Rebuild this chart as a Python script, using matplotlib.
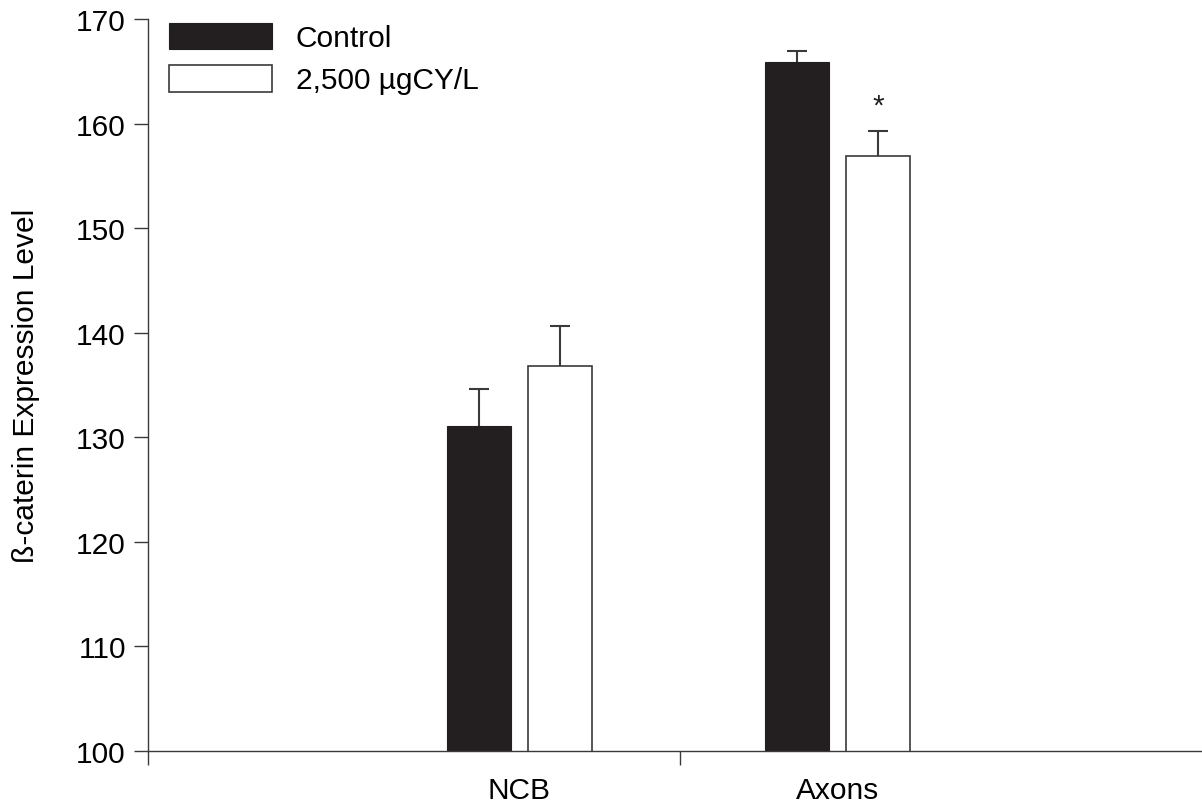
import matplotlib
matplotlib.use("Agg")
from matplotlib import pyplot as plt

plt.rcParams['font.family'] = ['Liberation Sans', 'DejaVu Sans']

#########################################
groups = ["NCB", "Axons"]
series = ["Control", "2,500 µgCY/L"]
control = [131.1, 165.9]
control_err = [3.5, 1.0]
treated = [136.8, 156.9]
treated_err = [3.8, 2.4]
star_y = 161.7

#########################################
dark = "#231f20"
edge = "#3a3a3a"
fs = 21.5

fig = plt.figure(figsize=(12.02, 8.03), dpi=100)
ax = fig.add_axes([148/1202, 1-752/803, 1-148/1202, (752-20)/803])

pos = [1, 2]
w = 0.2
off = 0.127

xc = [p - off for p in pos]
xt = [p + off for p in pos]
ax.bar(xc, control, w, color=dark, edgecolor=dark, linewidth=0.8,
       label=series[0], zorder=2)
ax.bar(xt, treated, w, color="white", edgecolor=edge, linewidth=1.2,
       label=series[1], zorder=2)

# upper error bars only
for xs, ys, es in [(xc, control, control_err), (xt, treated, treated_err)]:
    tops = [y + e for y, e in zip(ys, es)]
    ax.vlines(xs, ys, tops, color=edge, linewidth=1.5, zorder=1)
    ax.plot(xs, tops, linestyle="none", marker="_", markersize=14,
            markeredgewidth=1.5, color=edge, zorder=1)

ax.text(pos[1] + off, star_y, "*", ha="center", va="center", fontsize=fs, color=dark)

#########################################
xl = (-0.168, 3.146)
ax.set_xlim(*xl)
ax.set_ylim(100, 170)
ax.set_yticks(range(100, 171, 10))

ax.set_xticks([xl[0] + 0.001, 1.505])
ax.set_xticklabels(["", ""])
ax.set_xticks(pos, minor=True)
ax.set_xticklabels(groups, minor=True)
ax.tick_params(axis="x", which="major", length=10, width=1, color=edge, direction="out")
ax.tick_params(axis="x", which="minor", length=0, pad=18, labelsize=fs)
ax.tick_params(axis="y", length=10, width=1, color=edge, labelsize=fs, pad=6)

for s in ["top", "right"]:
    ax.spines[s].set_visible(False)
for s in ["left", "bottom"]:
    ax.spines[s].set_color(edge)
    ax.spines[s].set_linewidth(1)
ax.spines["left"].set_bounds(100, 170)

ax.set_ylabel("ß-caterin Expression Level", fontsize=fs, labelpad=26)

ax.legend(loc="upper left", bbox_to_anchor=(0.02, 0.995), frameon=False,
          fontsize=fs, handlelength=3.45, handleheight=1.0, handletextpad=0.8,
          labelspacing=0.42, borderaxespad=0, borderpad=0)

fig.savefig("out.png", dpi=100)
